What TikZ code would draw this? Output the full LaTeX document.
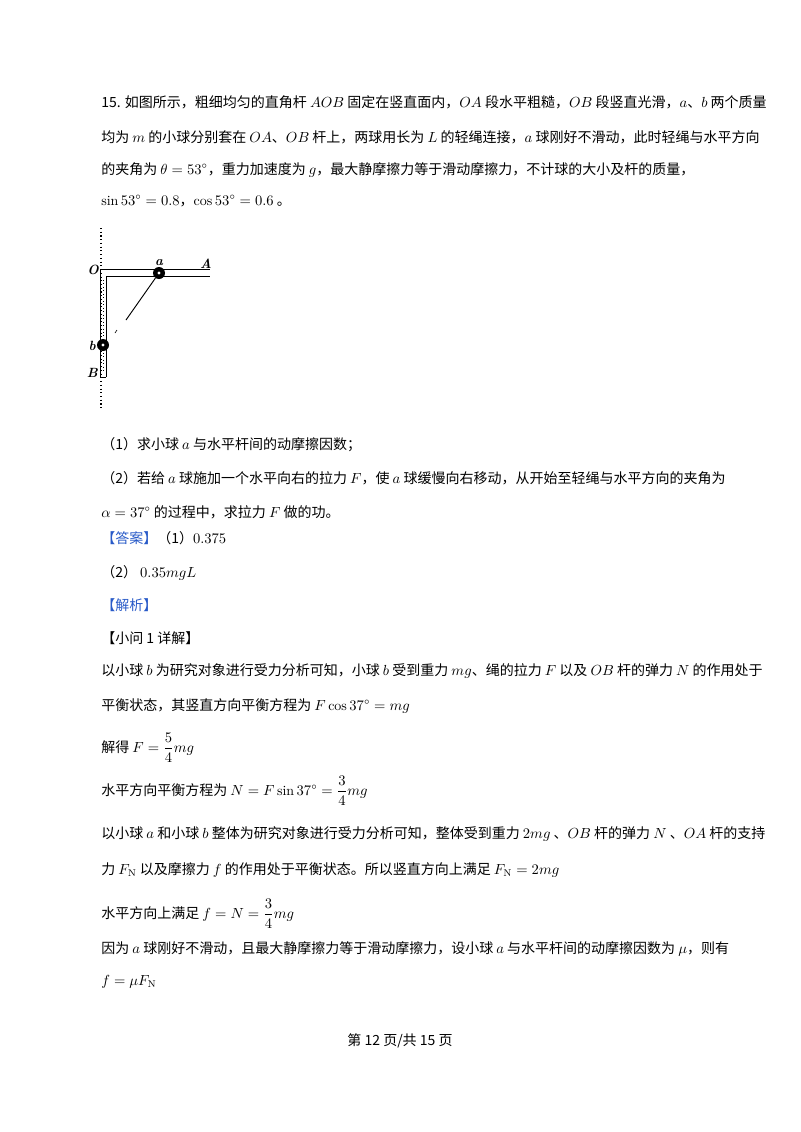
\documentclass[tikz,border=0pt]{standalone}
\usepackage{fontspec}
\usepackage{amsmath}
\newfontfamily\cjk{Noto Sans CJK SC}
\definecolor{ansblue}{RGB}{40,90,200}
\begin{document}
\begin{tikzpicture}[x=0.75pt,y=-0.75pt,
  t/.style={anchor=base west,inner sep=0pt,font=\cjk\fontsize{10.5}{12}\selectfont},
  rod/.style={line width=0.6pt},
  ball/.style={circle,fill=black,minimum size=9pt,inner sep=0pt}]
\useasboundingbox (0,0) rectangle (800,1132);
\fill[white] (0,0) rectangle (800,1132);
% text
\node[t] (l1) at (101,107) {15. 如图所示，粗细均匀的直角杆 $AOB$ 固定在竖直面内，$OA$ 段水平粗糙，$OB$ 段竖直光滑，$a$、$b$ 两个质量};
\node[t] (l2) at (101,142) {均为 $m$ 的小球分别套在 $OA$、$OB$ 杆上，两球用长为 $L$ 的轻绳连接，$a$ 球刚好不滑动，此时轻绳与水平方向};
\node[t] (l3) at (101,174) {的夹角为 $\theta=53^\circ$，重力加速度为 $g$，最大静摩擦力等于滑动摩擦力，不计球的大小及杆的质量，};
\node[t] (l4) at (101,205) {$\sin 53^\circ=0.8$，$\cos 53^\circ=0.6$ 。};
\node[t] (l5) at (101,449) {（1）求小球 $a$ 与水平杆间的动摩擦因数；};
\node[t] (l6) at (101,483) {（2）若给 $a$ 球施加一个水平向右的拉力 $F$，使 $a$ 球缓慢向右移动，从开始至轻绳与水平方向的夹角为};
\node[t] (l7) at (101,517) {$\alpha=37^\circ$ 的过程中，求拉力 $F$ 做的功。};
\node[t] (l8) at (101,543) {{\color{ansblue}【答案】}（1）$0.375$};
\node[t] (l9) at (101,577) {（2） $0.35mgL$};
\node[t] (l10) at (101,610) {{\color{ansblue}【解析】}};
\node[t] (l11) at (101,643) {【小问 1 详解】};
\node[t] (l12) at (101,675) {以小球 $b$ 为研究对象进行受力分析可知，小球 $b$ 受到重力 $mg$、绳的拉力 $F$ 以及 $OB$ 杆的弹力 $N$ 的作用处于};
\node[t] (l13) at (101,710) {平衡状态，其竖直方向平衡方程为 $F\cos37^\circ=mg$};
\node[t] (l14) at (101,752) {解得 $F=\dfrac{5}{4}mg$};
\node[t] (l15) at (101,795) {水平方向平衡方程为 $N=F\sin37^\circ=\dfrac{3}{4}mg$};
\node[t] (l16) at (101,838) {以小球 $a$ 和小球 $b$ 整体为研究对象进行受力分析可知，整体受到重力 $2mg$ 、$OB$ 杆的弹力 $N$ 、$OA$ 杆的支持};
\node[t] (l17) at (101,874) {力 $F_{\mathrm N}$ 以及摩擦力 $f$ 的作用处于平衡状态。所以竖直方向上满足 $F_{\mathrm N}=2mg$};
\node[t] (l18) at (101,918) {水平方向上满足 $f=N=\dfrac{3}{4}mg$};
\node[t] (l19) at (101,953) {因为 $a$ 球刚好不滑动，且最大静摩擦力等于滑动摩擦力，设小球 $a$ 与水平杆间的动摩擦因数为 $\mu$，则有};
\node[t] (l20) at (101,985) {$f=\mu F_{\mathrm N}$};
\node[t,anchor=base] (pg) at (400,1045) {第 12 页/共 15 页};
% figure
\coordinate (top) at (101,228);
\coordinate (bot) at (101,408);
\draw[dotted,line width=0.8pt] (top) -- (bot);
\draw[rod] (100,269) -- (210,269);
\draw[rod] (106,276) -- (210,276);
\draw[rod] (100,269) -- (100,377);
\draw[rod] (106,276) -- (106,377);
\draw[rod] (100,377) -- (106,377);
\draw[dotted,line width=0.6pt] (103,280) -- (103,372);
\node[ball] (a) at (159,273) {};
\node[ball] (b) at (103,345) {};
\fill[white] (a) circle (1.3pt);
\fill[white] (b) circle (1.3pt);
\coordinate (r1) at (126,320);
\coordinate (r2) at (117,330);
\coordinate (r3) at (115,333);
\draw[line width=0.7pt] (a) -- (r1);
\draw[line width=0.5pt] (r2) -- (r3);
\node[t,font=\bfseries\itshape\fontsize{10}{12}\selectfont,anchor=base east] (O) at (99,274) {O};
\node[t,font=\bfseries\itshape\fontsize{10}{12}\selectfont,anchor=base] (la) at (159,265) {a};
\node[t,font=\bfseries\itshape\fontsize{10}{12}\selectfont,anchor=base] (lA) at (206,268) {A};
\node[t,font=\bfseries\itshape\fontsize{10}{12}\selectfont,anchor=base east] (lb) at (96,350) {b};
\node[t,font=\bfseries\itshape\fontsize{10}{12}\selectfont,anchor=base east] (lB) at (98,377) {B};
\end{tikzpicture}
\end{document}
